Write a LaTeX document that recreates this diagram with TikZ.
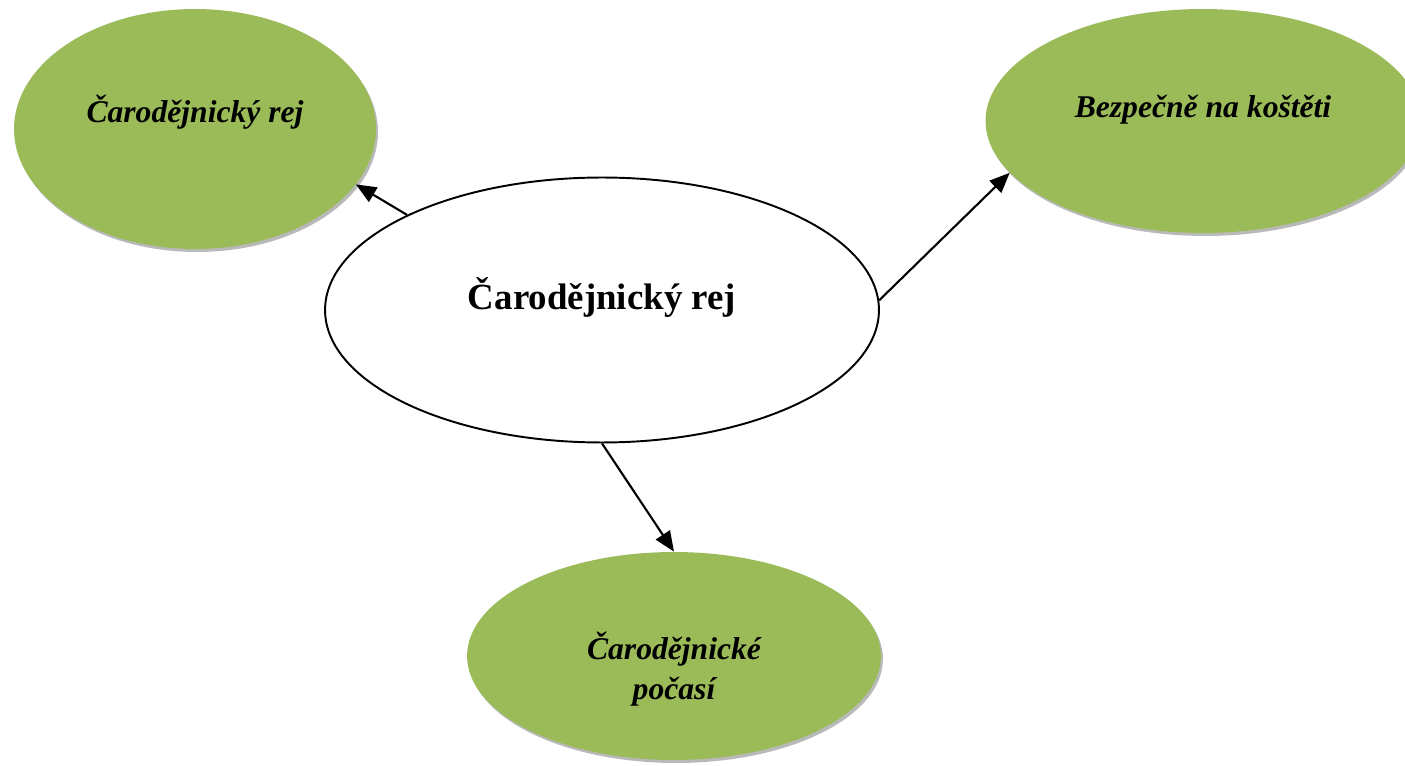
\documentclass[tikz,border=0pt]{standalone}
\usepackage{fontspec}
\setmainfont{Liberation Serif}
\usetikzlibrary{arrows.meta,shapes.geometric,shadows,positioning}
\definecolor{leafgreen}{RGB}{155,187,89}

\begin{document}
\begin{tikzpicture}[x=0.02cm,y=-0.02cm,>={Triangle[length=11.5pt,width=9.5pt]},
  hub/.style={ellipse,draw,line width=1.1pt,fill=white,inner sep=0pt,
    minimum width=11.08cm,minimum height=5.3cm},
  leaf/.style={ellipse,fill=leafgreen,inner sep=0pt,
    drop shadow={shadow xshift=0.04cm,shadow yshift=-0.06cm,fill=gray!55,opacity=1}},
  leaftext/.style={font=\fontsize{18}{23}\selectfont\bfseries\itshape,align=center},
  hubtext/.style={font=\fontsize{21}{25}\selectfont\bfseries}]
  \useasboundingbox (0,0) rectangle (1405,766);
   \node[hub,label={[hubtext,yshift=0.26cm]center:Čarodějnický rej}] (hub) at (602,310) {};
   \node[leaf,minimum width=7.24cm,minimum height=4.8cm,
     label={[leaftext,yshift=0.34cm]center:Čarodějnický rej}] (rej) at (195,129) {};
   \node[leaf,minimum width=8.7cm,minimum height=4.48cm,
     label={[leaftext,yshift=0.22cm]center:Bezpečně na koštěti}] (koste) at (1203,121) {};
   \node[leaf,minimum width=8.28cm,minimum height=4.16cm,
     label={[leaftext,yshift=-0.26cm]center:{Čarodějnické\\počasí}}] (pocasi) at (674,656) {};
    \path[->,line width=1.2pt]
    (hub.154.6) edge (rej.341.8)
    (hub.2.4) edge (koste.195.6)
    (hub.south) edge (pocasi.north);
\end{tikzpicture}
\end{document}
